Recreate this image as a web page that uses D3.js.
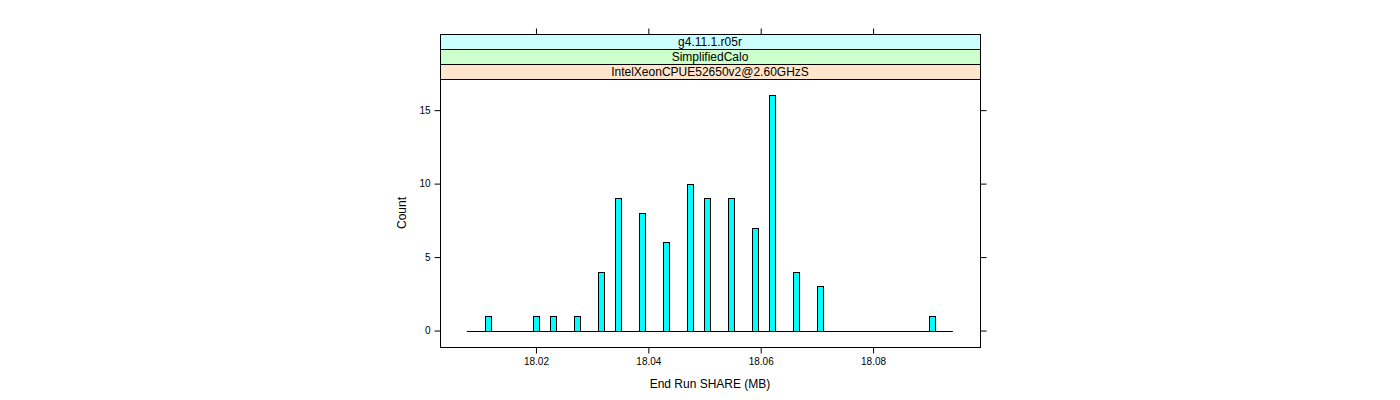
<!DOCTYPE html>
<html><head><meta charset="utf-8">
<script src="https://cdn.jsdelivr.net/npm/d3@7"></script>
<style>body{margin:0;background:#fff}svg{display:block}text{font-family:"Liberation Sans",Arial,Helvetica,sans-serif}</style>
</head><body>
<svg id="c" width="1400" height="400"></svg>
<script>
const stripLabels = ["g4.11.1.r05r", "SimplifiedCalo", "IntelXeonCPUE52650v2@2.60GHzS"];
const stripColors = ["#ccffff", "#ccffcc", "#ffe5cc"];
const binCenters = [18.01146, 18.01995, 18.02311, 18.02735, 18.03153, 18.03464, 18.03894, 18.04312,
                    18.04734, 18.05045, 18.05469, 18.05890, 18.06201, 18.06628, 18.07048, 18.09049];
const counts = [1, 1, 1, 1, 4, 9, 8, 6, 10, 9, 9, 7, 16, 4, 3, 1];
const binWidth = 0.00106;
const breaksRange = [18.0077, 18.0942];
const xTicks = [18.02, 18.04, 18.06, 18.08];
const yTicks = [0, 5, 10, 15];
const xLabel = "End Run SHARE (MB)";
const yLabel = "Count";

const svg = d3.select("#c");
const L = 440, R = 980, T = 79, B = 347, stripH = 15;
const x = d3.scaleLinear().domain([18.00292, 18.09903]).range([L, R]);
const y = d3.scaleLinear().domain([-1.12, 17.12]).range([B, T]);

// strips
stripLabels.forEach((s, i) => {
  const y0 = T - stripH * (stripLabels.length - i);
  svg.append("rect").attr("x", L + 0.5).attr("y", y0 + 0.5).attr("width", R - L).attr("height", stripH)
    .attr("fill", stripColors[i]).attr("stroke", "#000").attr("stroke-width", 1);
  svg.append("text").attr("x", (L + R) / 2).attr("y", y0 + stripH / 2 + 4.5).attr("text-anchor", "middle")
    .attr("font-size", 12).text(s);
});

// panel
svg.append("rect").attr("x", L + 0.5).attr("y", T + 0.5).attr("width", R - L).attr("height", B - T)
  .attr("fill", "none").attr("stroke", "#000").attr("stroke-width", 1);

// baseline
svg.append("line").attr("x1", x(breaksRange[0])).attr("x2", x(breaksRange[1]))
  .attr("y1", Math.round(y(0)) + 0.5).attr("y2", Math.round(y(0)) + 0.5).attr("stroke", "#000");

// bars
svg.selectAll("rect.bar").data(binCenters).enter().append("rect").attr("class", "bar")
  .attr("x", d => Math.round(x(d - binWidth / 2)) + 0.5)
  .attr("width", d => Math.round(x(d + binWidth / 2)) - Math.round(x(d - binWidth / 2)))
  .attr("y", (d, i) => Math.round(y(counts[i])) + 0.5)
  .attr("height", (d, i) => Math.round(y(0)) - Math.round(y(counts[i])))
  .attr("fill", "#00ffff").attr("stroke", "#000").attr("stroke-width", 1);

// axes
const topY = T - stripH * stripLabels.length;
const axB = d3.axisBottom(x).tickValues(xTicks).tickSize(6).tickPadding(4).tickFormat(d3.format(".2f"));
const axT = d3.axisTop(x).tickValues(xTicks).tickSize(6).tickFormat("");
const axL = d3.axisLeft(y).tickValues(yTicks).tickSize(6).tickPadding(4);
const axR = d3.axisRight(y).tickValues(yTicks).tickSize(6).tickFormat("");
function style(g) {
  g.select(".domain").remove();
  g.selectAll("text").attr("font-size", 10).attr("fill", "#000").attr("font-family", '"Liberation Sans",Arial,sans-serif');
  g.selectAll("line").attr("stroke", "#000");
}
svg.append("g").attr("transform", `translate(0,${B + 0.5})`).call(axB).call(style);
svg.append("g").attr("transform", `translate(0,${topY + 0.5})`).call(axT).call(style);
svg.append("g").attr("transform", `translate(${L + 0.5},0)`).call(axL).call(style);
svg.append("g").attr("transform", `translate(${R + 0.5},0)`).call(axR).call(style);

svg.append("text").attr("x", (L + R) / 2).attr("y", 388).attr("text-anchor", "middle").attr("font-size", 12).text(xLabel);
svg.append("text").attr("transform", `translate(406,${(T + B) / 2}) rotate(-90)`).attr("text-anchor", "middle")
  .attr("font-size", 12).text(yLabel);
</script>
</body></html>
